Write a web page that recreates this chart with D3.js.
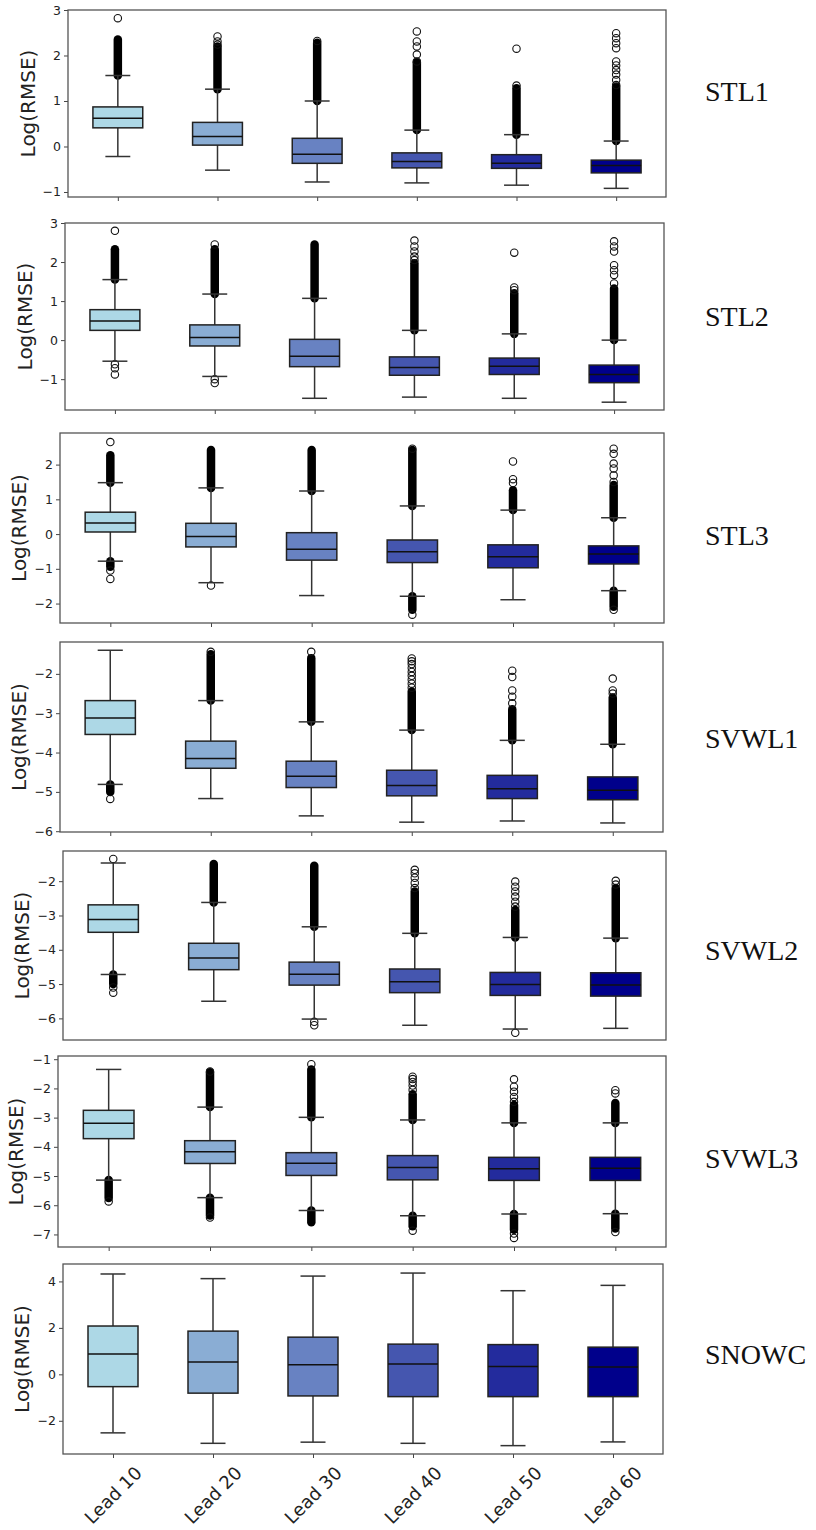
<!DOCTYPE html>
<html>
<head>
<meta charset="utf-8">
<script src="https://cdn.jsdelivr.net/npm/d3@7"></script>
<style>
  body { margin: 0; background: #fff; }
  svg { display: block; }
</style>
</head>
<body>
<script>
// lead times on the x axis
let leads = ["Lead 10", "Lead 20", "Lead 30", "Lead 40", "Lead 50", "Lead 60"];
let boxColors = ["#add8e6", "#8aadd4", "#6882c2", "#4556af", "#232b9d", "#00008b"];

// box stats per lead: [lower whisker, q1, median, q3, upper whisker]
// high/low = dense runs of outliers [from, to], fliers = single outliers
let stl1Box = [[-0.22, 0.41, 0.62, 0.87, 1.56], [-0.52, 0.03, 0.22, 0.53, 1.26], [-0.78, -0.37, -0.17, 0.18, 1.0],
               [-0.80, -0.47, -0.33, -0.14, 0.36], [-0.85, -0.48, -0.37, -0.18, 0.26], [-0.92, -0.58, -0.42, -0.30, 0.12]];
let stl1High = [[1.56, 2.35], [1.26, 2.2], [1.0, 2.28], [0.36, 1.85], [0.26, 1.28], [0.12, 1.32]];
let stl1Low = [null, null, null, null, null, null];
let stl1Fliers = [[2.82], [2.24, 2.31, 2.42], [2.32], [1.87, 2.02, 2.2, 2.31, 2.53], [1.34, 2.15],
                  [1.35, 1.46, 1.58, 1.68, 1.78, 1.87, 2.16, 2.27, 2.38, 2.49]];

let stl2Box = [[-0.54, 0.25, 0.49, 0.78, 1.55], [-0.93, -0.15, 0.07, 0.39, 1.18], [-1.49, -0.68, -0.41, 0.02, 1.07],
               [-1.46, -0.90, -0.70, -0.43, 0.25], [-1.49, -0.88, -0.67, -0.46, 0.16], [-1.59, -1.09, -0.88, -0.64, 0.0]];
let stl2High = [[1.55, 2.33], [1.18, 2.33], [1.07, 2.45], [0.25, 1.97], [0.16, 1.2], [0.0, 1.32]];
let stl2Low = [null, null, null, null, null, null];
let stl2Fliers = [[2.80, -0.62, -0.72, -0.88], [2.45, -1.0, -1.1], [], [2.05, 2.14, 2.27, 2.40, 2.55], [1.28, 1.35, 2.24],
                  [1.45, 1.67, 1.79, 1.92, 2.27, 2.40, 2.53]];

let stl3Box = [[-0.78, 0.06, 0.32, 0.63, 1.48], [-1.40, -0.37, -0.07, 0.31, 1.33], [-1.77, -0.75, -0.44, 0.04, 1.24],
               [-1.79, -0.82, -0.51, -0.17, 0.81], [-1.89, -0.97, -0.65, -0.31, 0.69], [-1.63, -0.86, -0.57, -0.34, 0.47]];
let stl3High = [[1.48, 2.27], [1.33, 2.42], [1.24, 2.42], [0.81, 2.42], [0.69, 1.26], [0.47, 1.41]];
let stl3Low = [[-0.78, -0.94], null, null, [-1.79, -2.18], null, [-1.63, -2.09]];
let stl3Fliers = [[2.65, -1.05, -1.29], [-1.48], [], [2.46, -2.32], [1.47, 1.58, 2.09],
                  [-2.18, 1.5, 1.69, 1.89, 2.03, 2.31, 2.46]];

let svwl1Box = [[-4.81, -3.54, -3.12, -2.68, -1.40], [-5.17, -4.40, -4.15, -3.71, -2.68], [-5.61, -4.89, -4.60, -4.22, -3.22],
                [-5.77, -5.10, -4.84, -4.45, -3.43], [-5.74, -5.17, -4.92, -4.58, -3.69], [-5.79, -5.20, -4.96, -4.62, -3.79]];
let svwl1High = [null, [-2.68, -1.5], [-3.22, -1.6], [-3.43, -2.45], [-3.69, -2.9], [-3.79, -2.6]];
let svwl1Low = [[-4.81, -5.0], null, null, null, null, null];
let svwl1Fliers = [[-5.18], [-1.44], [-1.44], [-1.61, -1.68, -1.75, -1.85, -1.95, -2.05, -2.15, -2.25, -2.35],
                   [-2.75, -2.58, -2.42, -2.08, -1.92], [-2.42, -2.5, -2.12]];

let svwl2Box = [[-4.72, -3.49, -3.12, -2.69, -1.47], [-5.50, -4.58, -4.24, -3.81, -2.62], [-6.02, -5.03, -4.71, -4.36, -3.33],
                [-6.20, -5.25, -4.93, -4.56, -3.52], [-6.31, -5.33, -5.01, -4.66, -3.64], [-6.29, -5.35, -5.03, -4.67, -3.66]];
let svwl2High = [null, [-2.62, -1.5], [-3.33, -1.55], [-3.52, -2.3], [-3.64, -2.84], [-3.66, -2.2]];
let svwl2Low = [[-4.72, -5.0], null, null, null, null, null];
let svwl2Fliers = [[-1.35, -5.1, -5.25], [], [-6.1, -6.2], [-1.67, -1.77, -1.9, -2.05, -2.2],
                   [-2.74, -2.6, -2.45, -2.3, -2.16, -2.01, -6.42], [-1.99, -2.1]];

let svwl3Box = [[-5.14, -3.72, -3.19, -2.75, -1.35], [-5.74, -4.57, -4.17, -3.79, -2.64], [-6.18, -4.98, -4.56, -4.20, -2.99],
                [-6.36, -5.13, -4.71, -4.30, -3.08], [-6.30, -5.15, -4.75, -4.36, -3.18], [-6.29, -5.15, -4.73, -4.36, -3.18]];
let svwl3High = [null, [-2.64, -1.45], [-2.99, -1.35], [-3.08, -2.2], [-3.18, -2.57], [-3.18, -2.5]];
let svwl3Low = [[-5.14, -5.75], [-5.74, -6.35], [-6.18, -6.58], [-6.36, -6.72], [-6.30, -6.84], [-6.29, -6.8]];
let svwl3Fliers = [[-5.87], [-1.42, -6.42], [-1.17], [-1.6, -1.68, -1.78, -1.9, -2.05, -6.87],
                   [-1.69, -1.94, -2.11, -2.29, -2.46, -6.97, -7.12], [-2.06, -2.17, -6.92]];

let snowcBox = [[-2.52, -0.53, 0.88, 2.08, 4.32], [-2.97, -0.81, 0.53, 1.86, 4.12], [-2.92, -0.93, 0.41, 1.60, 4.23],
                [-2.97, -0.96, 0.44, 1.30, 4.36], [-3.07, -0.96, 0.34, 1.28, 3.60], [-2.91, -0.96, 0.32, 1.17, 3.83]];
let snowcHigh = [null, null, null, null, null, null];
let snowcLow = [null, null, null, null, null, null];
let snowcFliers = [[], [], [], [], [], []];

// axis limits and tick labels of each panel
let panels = [
    {name: "STL1", box: stl1Box, high: stl1High, low: stl1Low, fliers: stl1Fliers, yDomain: [-1.11, 3.0], yTicks: [-1, 0, 1, 2, 3]},
    {name: "STL2", box: stl2Box, high: stl2High, low: stl2Low, fliers: stl2Fliers, yDomain: [-1.79, 3.0], yTicks: [-1, 0, 1, 2, 3]},
    {name: "STL3", box: stl3Box, high: stl3High, low: stl3Low, fliers: stl3Fliers, yDomain: [-2.56, 2.91], yTicks: [-2, -1, 0, 1, 2]},
    {name: "SVWL1", box: svwl1Box, high: svwl1High, low: svwl1Low, fliers: svwl1Fliers, yDomain: [-6.02, -1.19], yTicks: [-6, -5, -4, -3, -2]},
    {name: "SVWL2", box: svwl2Box, high: svwl2High, low: svwl2Low, fliers: svwl2Fliers, yDomain: [-6.63, -1.12], yTicks: [-6, -5, -4, -3, -2]},
    {name: "SVWL3", box: svwl3Box, high: svwl3High, low: svwl3Low, fliers: svwl3Fliers, yDomain: [-7.43, -0.89], yTicks: [-7, -6, -5, -4, -3, -2, -1]},
    {name: "SNOWC", box: snowcBox, high: snowcHigh, low: snowcLow, fliers: snowcFliers, yDomain: [-3.43, 4.75], yTicks: [-2, 0, 2, 4]}
];

// layout: frame [left, top, right, bottom], y-label x, panel name y
// (the original is a stack of separate figures, so the frames don't line up exactly)
let frames = [[68, 10, 666, 197], [65, 223, 664, 410], [60, 433, 664, 623], [60, 642, 663, 832],
              [63, 851, 666, 1040], [58, 1056, 666, 1247], [63, 1264, 663, 1454]];
let yLabelX = [28, 25, 19, 19, 22, 16, 22];
let nameY = [91, 316, 535, 738, 950, 1158, 1354];
let xTicksShown = [true, true, true, true, false, true, true];

let width = 816, height = 1530;

let svg = d3.select("body").append("svg")
    .attr("width", width)
    .attr("height", height);

svg.append("rect").attr("width", width).attr("height", height).attr("fill", "#fff");

let fmt = function (d) { return d < 0 ? "\u2212" + Math.abs(d) : String(d); };

panels.forEach(function (p, i) {
    let [left, top, right, bottom] = frames[i];

    let x = d3.scalePoint().domain(leads).range([left, right]).padding(0.5);
    let y = d3.scaleLinear().domain(p.yDomain).range([bottom, top]);
    let bw = x.step() * 0.5;

    let g = svg.append("g");

    // y axis
    let yAxis = g.append("g")
        .attr("transform", "translate(" + left + ",0)")
        .call(d3.axisLeft(y).tickValues(p.yTicks).tickSize(4).tickPadding(3).tickFormat(fmt));
    yAxis.select(".domain").remove();
    yAxis.selectAll("line").attr("stroke", "#444").attr("stroke-width", 1);
    yAxis.selectAll("text")
        .attr("font-family", "DejaVu Sans")
        .attr("font-size", 12.5)
        .attr("fill", "#222");

    // x axis (labels only on the last panel)
    if (xTicksShown[i]) {
        let last = i == panels.length - 1;
        let xAxis = g.append("g")
            .attr("transform", "translate(0," + bottom + ")")
            .call(d3.axisBottom(x).tickSize(4).tickFormat(""));
        xAxis.select(".domain").remove();
        xAxis.selectAll("line").attr("stroke", "#444").attr("stroke-width", 1);

        if (last) {
            g.selectAll(".xlab")
                .data(leads)
                .enter()
                .append("text")
                .attr("class", "xlab")
                .attr("transform", function (d) { return "translate(" + x(d) + "," + (bottom + 41) + ") rotate(-45)"; })
                .attr("text-anchor", "middle")
                .attr("dominant-baseline", "central")
                .attr("font-family", "DejaVu Sans")
                .attr("font-size", 18)
                .attr("fill", "#222")
                .text(function (d) { return d; });
        }
    }

    // y label
    g.append("text")
        .attr("transform", "translate(" + yLabelX[i] + "," + ((top + bottom) / 2) + ") rotate(-90)")
        .attr("text-anchor", "middle")
        .attr("dominant-baseline", "central")
        .attr("font-family", "DejaVu Sans")
        .attr("font-size", 20)
        .attr("fill", "#222")
        .text("Log(RMSE)");

    // dense outlier runs
    let runs = [];
    leads.forEach(function (lead, k) {
        if (p.high[k]) runs.push({lead: lead, r: p.high[k]});
        if (p.low[k]) runs.push({lead: lead, r: p.low[k]});
    });
    g.selectAll(".run")
        .data(runs)
        .enter()
        .append("line")
        .attr("x1", function (d) { return x(d.lead); })
        .attr("x2", function (d) { return x(d.lead); })
        .attr("y1", function (d) { return y(d.r[0]); })
        .attr("y2", function (d) { return y(d.r[1]); })
        .attr("stroke", "#000")
        .attr("stroke-width", 8.5)
        .attr("stroke-linecap", "round");

    // single outliers
    let pts = [];
    leads.forEach(function (lead, k) {
        p.fliers[k].forEach(function (v) { pts.push({lead: lead, v: v}); });
    });
    g.selectAll(".flier")
        .data(pts)
        .enter()
        .append("circle")
        .attr("cx", function (d) { return x(d.lead); })
        .attr("cy", function (d) { return y(d.v); })
        .attr("r", 3.7)
        .attr("fill", "none")
        .attr("stroke", "#111")
        .attr("stroke-width", 1.1);

    // boxes
    let boxes = g.selectAll(".box")
        .data(p.box)
        .enter()
        .append("g")
        .attr("class", "box");

    // whiskers
    boxes.append("line")
        .attr("x1", function (d, k) { return x(leads[k]); })
        .attr("x2", function (d, k) { return x(leads[k]); })
        .attr("y1", function (d) { return y(d[0]); })
        .attr("y2", function (d) { return y(d[1]); })
        .attr("stroke", "#333").attr("stroke-width", 1.5);
    boxes.append("line")
        .attr("x1", function (d, k) { return x(leads[k]); })
        .attr("x2", function (d, k) { return x(leads[k]); })
        .attr("y1", function (d) { return y(d[3]); })
        .attr("y2", function (d) { return y(d[4]); })
        .attr("stroke", "#333").attr("stroke-width", 1.5);

    // caps
    [0, 4].forEach(function (j) {
        boxes.append("line")
            .attr("x1", function (d, k) { return x(leads[k]) - bw / 4; })
            .attr("x2", function (d, k) { return x(leads[k]) + bw / 4; })
            .attr("y1", function (d) { return y(d[j]); })
            .attr("y2", function (d) { return y(d[j]); })
            .attr("stroke", "#333").attr("stroke-width", 1.5);
    });

    boxes.append("rect")
        .attr("x", function (d, k) { return x(leads[k]) - bw / 2; })
        .attr("width", bw)
        .attr("y", function (d) { return y(d[3]); })
        .attr("height", function (d) { return y(d[1]) - y(d[3]); })
        .attr("fill", function (d, k) { return boxColors[k]; })
        .attr("stroke", "#222")
        .attr("stroke-width", 1.5);

    // medians
    boxes.append("line")
        .attr("x1", function (d, k) { return x(leads[k]) - bw / 2; })
        .attr("x2", function (d, k) { return x(leads[k]) + bw / 2; })
        .attr("y1", function (d) { return y(d[2]); })
        .attr("y2", function (d) { return y(d[2]); })
        .attr("stroke", "#111").attr("stroke-width", 1.5);

    // frame
    g.append("rect")
        .attr("x", left).attr("y", top)
        .attr("width", right - left).attr("height", bottom - top)
        .attr("fill", "none")
        .attr("stroke", "#555")
        .attr("stroke-width", 1.3);

    // panel name
    g.append("text")
        .attr("x", 705)
        .attr("y", nameY[i])
        .attr("dominant-baseline", "central")
        .attr("font-family", "Liberation Serif")
        .attr("font-size", 28)
        .attr("fill", "#111")
        .text(p.name);
});
</script>
</body>
</html>
